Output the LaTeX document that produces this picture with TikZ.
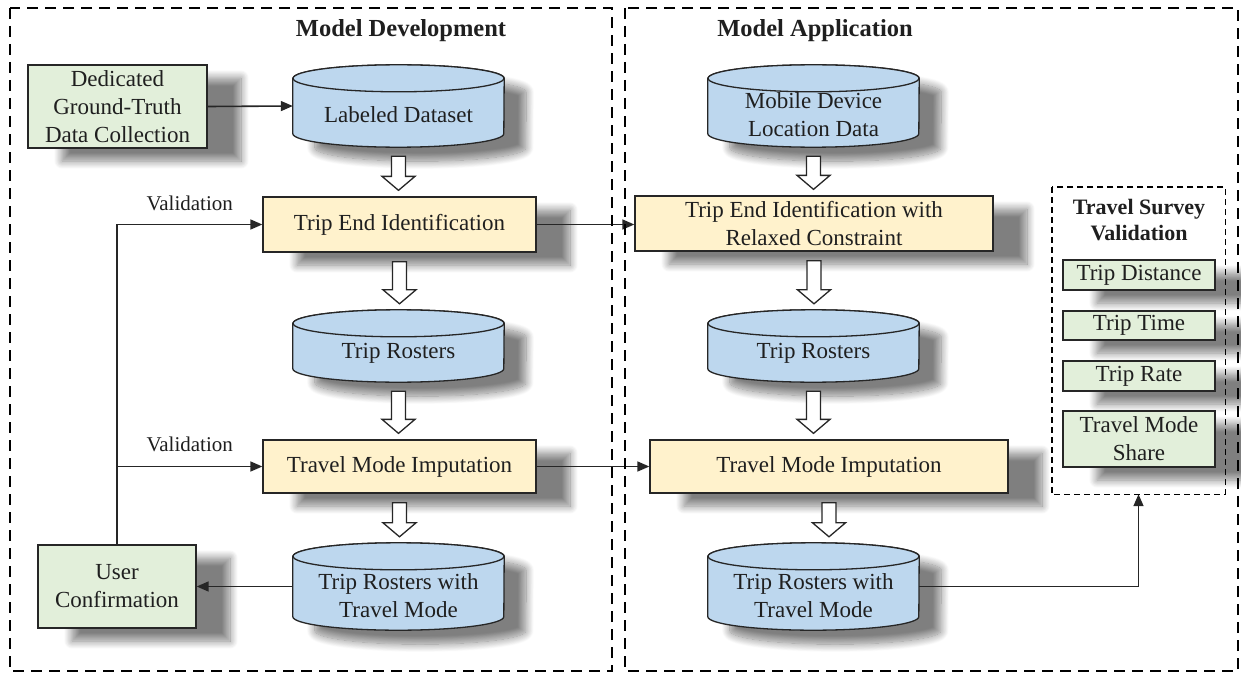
\documentclass[tikz,border=0pt]{standalone}
\usepackage{fontspec}
\setmainfont{Liberation Serif}
\usetikzlibrary{arrows.meta,calc,shadows.blur}

\definecolor{boxgreen}{HTML}{E2EFDA}
\definecolor{boxyellow}{HTML}{FFF2CC}
\definecolor{drumblue}{HTML}{BDD7EE}
\definecolor{inkgray}{HTML}{262626}

\tikzset{
  every node/.style={font=\fontsize{23}{28}\selectfont, text=black!88},
  boxshade/.style={blur shadow={shadow xshift=34pt, shadow yshift=-13pt,
      shadow opacity=50, shadow blur radius=8pt, shadow blur steps=14}},
  drumshade/.style={blur shadow={shadow xshift=22pt, shadow yshift=-14pt,
      shadow opacity=50, shadow blur radius=8pt, shadow blur steps=14}},
  greenbox/.style={draw=inkgray, line width=1.3pt, fill=boxgreen,
      inner sep=0pt, align=center, boxshade},
  yellowbox/.style={draw=inkgray, line width=1.3pt, fill=boxyellow,
      inner sep=0pt, align=center, boxshade},
  drumbody/.style={inner sep=0pt, minimum width=211pt},
  drumtext/.style={align=center, inner sep=0pt},
  drum/.style={draw=inkgray, line width=1.3pt, fill=drumblue},
  link/.style={draw=inkgray, line width=1.6pt, -{Triangle[length=12pt,width=10pt]}},
  hollow/.style={draw=inkgray, line width=1.3pt, fill=white, line join=miter},
  panel/.style={draw=black, line width=2.6pt, dash pattern=on 11pt off 7pt},
  subpanel/.style={draw=black, line width=1.4pt, dash pattern=on 6pt off 4pt},
  headline/.style={font=\bfseries\fontsize{24.5}{28}\selectfont},
  subheadline/.style={font=\bfseries\fontsize{22}{26}\selectfont, align=center},
  tag/.style={font=\fontsize{21}{24}\selectfont},
}

% cylinder outline around a named (invisible) node
\newcommand\drumshape[1]{%
  \path[drum, drumshade]
    ($(#1.north west)+(0,13.5)$) -- ($(#1.south west)+(0,-13.5)$)
    arc[start angle=180, end angle=360, x radius=105.5pt, y radius=13.5pt]
    -- ($(#1.north east)+(0,13.5)$)
    arc[start angle=0, end angle=180, x radius=105.5pt, y radius=13.5pt]
    -- cycle;
  \draw[drum] ($(#1.north)+(0,13.5)$) ellipse [x radius=105.5pt, y radius=13.5pt];
}

% hollow block arrow pointing down from node #1 to node #2
\newcommand\bigdown[2]{%
  \draw[hollow]
    ($(#1.south)+(-7,9)$) -- ($(#1.south |- #2.north)+(-7,-20)$)
    -- ($(#1.south |- #2.north)+(-16.5,-20)$)
    -- ($(#1.south |- #2.north)+(0,-6)$)
    -- ($(#1.south |- #2.north)+(16.5,-20)$)
    -- ($(#1.south |- #2.north)+(7,-20)$)
    -- ($(#1.south)+(7,9)$) -- cycle;
}

\begin{document}
\begin{tikzpicture}[x=1pt, y=-1pt]
\useasboundingbox (0,0) rectangle (1241,674);

% ---------- model development ----------
\node[headline] (devtitle) at (401,31) {Model Development};

\node[greenbox, minimum width=179pt, minimum height=83pt] (gtd) at (117.5,106.5)
  {Dedicated\\Ground-Truth\\Data Collection};

\node[drumbody, minimum height=82pt] (ld) at (398.5,106) {};
\drumshape{ld}
\node[drumtext] (ldt) at ($(ld.center)+(0,8.5)$) {Labeled Dataset};

\node[yellowbox, minimum width=273pt, minimum height=55pt] (tei) at (399.5,224.5)
  {Trip End Identification};

\node[drumbody, minimum height=72pt] (tr) at (398.5,346) {};
\drumshape{tr}
\node[drumtext] (trt) at ($(tr.center)+(0,7.5)$) {Trip Rosters};

\node[yellowbox, minimum width=273pt, minimum height=53pt] (tmi) at (399.5,466.5)
  {Travel Mode Imputation};

\node[drumbody, minimum height=87pt] (trtm) at (398.5,586.5) {};
\drumshape{trtm}
\node[drumtext] (trtmt) at ($(trtm.center)+(0,9.5)$) {Trip Rosters with\\Travel Mode};

\node[greenbox, minimum width=158pt, minimum height=83pt] (uc) at (117,586.5)
  {User\\Confirmation};

% ---------- model application ----------
\node[headline] (apptitle) at (815,31) {Model Application};

\node[drumbody, minimum height=82pt] (mdl) at (813.5,106) {};
\drumshape{mdl}
\node[drumtext] (mdlt) at ($(mdl.center)+(0,9)$) {Mobile Device\\Location Data};

\node[yellowbox, minimum width=358pt, minimum height=55pt] (teir) at (814,223.5)
  {Trip End Identification with\\Relaxed Constraint};

\node[drumbody, minimum height=72pt] (trr) at (813.5,346) {};
\drumshape{trr}
\node[drumtext] (trrt) at ($(trr.center)+(0,7.5)$) {Trip Rosters};

\node[yellowbox, minimum width=358pt, minimum height=53pt] (tmir) at (829,466.5)
  {Travel Mode Imputation};

\node[drumbody, minimum height=87pt] (trtmr) at (813.5,586.5) {};
\drumshape{trtmr}
\node[drumtext] (trtmrt) at ($(trtmr.center)+(0,9.5)$) {Trip Rosters with\\Travel Mode};

% ---------- travel survey validation ----------
\node[minimum width=173pt, minimum height=307pt, inner sep=0pt] (tsv) at (1138.5,340.5) {};
\node[subheadline] (tsvt) at (1139,220) {Travel Survey\\Validation};
\node[greenbox, minimum width=152pt, minimum height=30pt] (td) at (1139,275) {Trip Distance};
\node[greenbox, minimum width=152pt, minimum height=29pt] (tt) at (1139,325.5) {Trip Time};
\node[greenbox, minimum width=152pt, minimum height=30pt] (trate) at (1139,376) {Trip Rate};
\node[greenbox, minimum width=152pt, minimum height=56pt] (tms) at (1139,439) {Travel Mode\\Share};

% ---------- block arrows ----------
\bigdown{ld}{tei}
\bigdown{tei}{tr}
\bigdown{tr}{tmi}
\bigdown{tmi}{trtm}
\bigdown{mdl}{teir}
\bigdown{teir}{trr}
\bigdown{trr}{tmir}
\bigdown{tmir}{trtmr}

% ---------- connectors ----------
\draw[link] (gtd.east) -- (ld.west);
\draw[link] (tei.east) -- (tei.east -| teir.west);
\draw[link] (tmi.east) -- (tmi.east -| tmir.west);
\draw[link] (trtm.west) -- (uc.east);
\draw[link] (uc.north) |- (tei.west);
\draw[link] (uc.north |- tmi.west) -- (tmi.west);
\draw[link] (trtmr.east) -| (tsv.south);

\node[tag] (val1) at ($(uc.north |- tei.west)!.5!(tei.west)+(0,-21)$) {Validation};
\node[tag] (val2) at ($(uc.north |- tmi.west)!.5!(tmi.west)+(0,-22)$) {Validation};

% ---------- dashed frames ----------
\draw[subpanel] (tsv.north west) rectangle (tsv.south east);
\draw[panel] (10,8) rectangle (612,671);
\draw[panel] (625,8) rectangle (1238,671);
\end{tikzpicture}
\end{document}
